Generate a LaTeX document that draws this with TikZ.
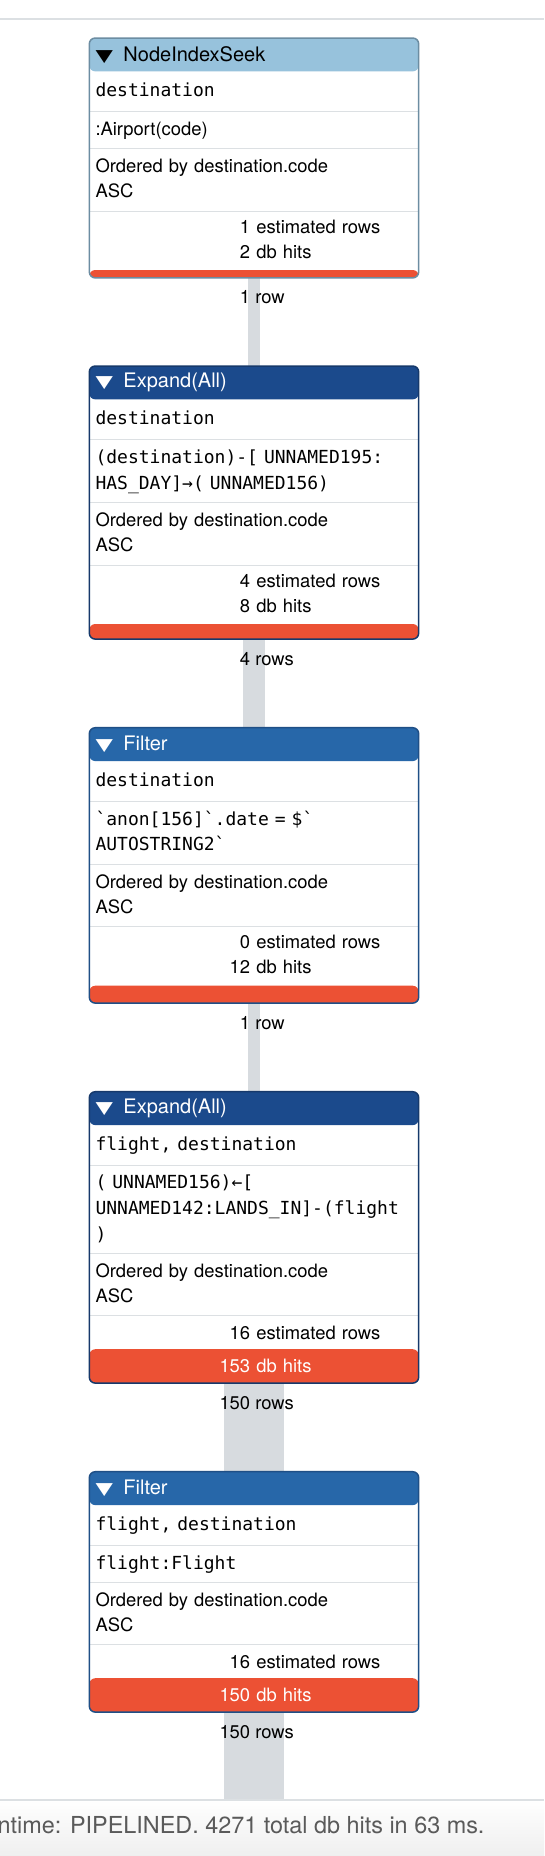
\documentclass[tikz,border=0pt]{standalone}
\usepackage{fontspec}
\setmainfont{TeX Gyre Heros}
\setmonofont{DejaVu Sans Mono}
\newfontfamily\symfont{DejaVu Sans}
\usetikzlibrary{positioning,fit,backgrounds,calc}

\definecolor{seekfill}{HTML}{97C2DC}
\definecolor{seekedge}{HTML}{6C8DA2}
\definecolor{expandfill}{HTML}{1B4A8C}
\definecolor{expandedge}{HTML}{16396B}
\definecolor{filterfill}{HTML}{2767A9}
\definecolor{filteredge}{HTML}{1F4F86}
\definecolor{hitred}{HTML}{EC5134}
\definecolor{rulegray}{HTML}{DCE0E3}
\definecolor{flowgray}{HTML}{D7DBDF}
\definecolor{footbg}{HTML}{EFEFEF}
\definecolor{foottext}{HTML}{5A5A5A}

\newcommand{\tri}{\scalebox{1}[0.75]{\symfont\fontsize{22.6}{22.6}\selectfont ▼}\hspace{10.6pt}}
\newcommand{\stat}[2]{\hspace*{154.7pt}\llap{#1} #2}

\begin{document}
\begin{tikzpicture}[
  x=1pt, y=1pt,
  hdr/.style={rectangle, text width=317pt, inner xsep=6pt, inner ysep=0pt,
    minimum height=33pt, align=left, font=\fontsize{20}{22}\selectfont},
  cell/.style={rectangle, text width=317pt, inner xsep=6pt, inner ysep=0pt,
    align=left, font=\fontsize{18.4}{25}\selectfont,
    execute at begin node=\strut, execute at end node=\strut},
  code/.style={cell, font=\ttfamily\fontsize{18}{25.7}\selectfont},
  hits/.style={rectangle, text width=317pt, inner xsep=6pt, inner ysep=0pt,
    align=left, minimum height=33pt, font=\fontsize{18.4}{25}\selectfont},
  bar/.style={rectangle, minimum width=329pt, inner sep=0pt},
  frame/.style={rectangle, rounded corners=6pt, line width=1.5pt, fill=white, inner sep=0pt},
  divider/.style={rulegray, line width=1.2pt},
  flow/.style={flowgray},
  count/.style={anchor=base west, inner sep=0pt, font=\fontsize{18.4}{24}\selectfont},
  node distance=0pt
]
\useasboundingbox (0,0) rectangle (544,-1856);

% top rule
\draw[rulegray, line width=2pt] (0,-19) -- (544,-19);

% NodeIndexSeek
\node[hdr, anchor=north] (h1) at (254,-38) {\tri NodeIndexSeek};
\node[code, below=of h1, minimum height=40pt] (a1) {destination};
\node[cell, below=of a1, minimum height=36.5pt] (b1) {:Airport(code)};
\node[cell, below=of b1, minimum height=62pt] (c1) {Ordered by destination.code\\ASC};
\node[cell, below=of c1, minimum height=58.5pt] (s1) {\stat{1}{estimated rows}\\\stat{2}{db hits}};
\node[bar, below=of s1, minimum height=7.5pt] (r1) {};

% Expand(All)
\node[hdr, anchor=north, text=white] (h2) at (254,-366) {\tri Expand(All)};
\node[code, below=of h2, minimum height=40pt] (a2) {destination};
\node[code, below=of a2, minimum height=62.5pt] (b2) {(destination)-[ UNNAMED195:\\HAS\_DAY]→( UNNAMED156)};
\node[cell, below=of b2, minimum height=62pt] (c2) {Ordered by destination.code\\ASC};
\node[cell, below=of c2, minimum height=58.5pt] (s2) {\stat{4}{estimated rows}\\\stat{8}{db hits}};
\node[bar, below=of s2, minimum height=14.7pt] (r2) {};

% Filter
\node[hdr, anchor=north, text=white] (h3) at (254,-727.7) {\tri Filter};
\node[code, below=of h3, minimum height=40pt] (a3) {destination};
\node[code, below=of a3, minimum height=62.5pt] (b3) {\textasciigrave anon[156]\textasciigrave.date = \$\textasciigrave\\AUTOSTRING2\textasciigrave};
\node[cell, below=of b3, minimum height=62pt] (c3) {Ordered by destination.code\\ASC};
\node[cell, below=of c3, minimum height=58.5pt] (s3) {\stat{0}{estimated rows}\\\stat{12}{db hits}};
\node[bar, below=of s3, minimum height=17pt] (r3) {};

% Expand(All)
\node[hdr, anchor=north, text=white] (h4) at (254,-1091.7) {\tri Expand(All)};
\node[code, below=of h4, minimum height=40pt] (a4) {flight, destination};
\node[code, below=of a4, minimum height=87.5pt] (b4) {( UNNAMED156)←[\\UNNAMED142:LANDS\_IN]-(flight\\)};
\node[cell, below=of b4, minimum height=62pt] (c4) {Ordered by destination.code\\ASC};
\node[hits, below=of c4] (s4) {\stat{16}{estimated rows}};
\node[hits, below=of s4, minimum height=33.5pt, text=white] (r4) {\stat{153}{db hits}};

% Filter
\node[hdr, anchor=north, text=white] (h5) at (254,-1471.7) {\tri Filter};
\node[code, below=of h5, minimum height=40pt] (a5) {flight, destination};
\node[code, below=of a5, minimum height=36.5pt] (b5) {flight:Flight};
\node[cell, below=of b5, minimum height=62pt] (c5) {Ordered by destination.code\\ASC};
\node[hits, below=of c5] (s5) {\stat{16}{estimated rows}};
\node[hits, below=of s5, minimum height=33.5pt, text=white] (r5) {\stat{150}{db hits}};

% Row counts
\node[count] (n1) at ($(r1.south)+(-4,-26)$) {\llap{1} row};
\node[count] (n2) at ($(r2.south)+(-4,-26)$) {\llap{4} rows};
\node[count] (n3) at ($(r3.south)+(-4,-26)$) {\llap{1} row};
\node[count] (n4) at ($(r4.south)+(-4,-26)$) {\llap{150} rows};
\node[count] (n5) at ($(r5.south)+(-4,-26)$) {\llap{150} rows};

% Footer
\node[rectangle, minimum width=544pt, minimum height=56pt, inner sep=0pt,
  top color=white, bottom color=footbg] (foot) at (272,-1828) {};
\draw[rulegray, line width=1.5pt] (foot.north west) -- (foot.north east);
\node[anchor=base east, inner sep=0pt, text=foottext, font=\fontsize{23.4}{28}\selectfont]
  (runtime) at (484.7,-1833.3) {ntime: PIPELINED. 4271 total db hits in 63 ms.};

\begin{scope}[on background layer]
\fill[white] (0,0) rectangle (544,-1856);
% flows between operators
\draw[flow, line width=11.7pt] (r1.south) -- (h2.north);
\draw[flow, line width=22pt] (r2.south) -- (h3.north);
\draw[flow, line width=11.7pt] (r3.south) -- (h4.north);
\draw[flow, line width=59.5pt] (r4.south) -- (h5.north);
\draw[flow, line width=59.5pt] (r5.south) -- (r5.south |- foot.north);
% operator frames
\node[frame, draw=seekedge, fit=(h1)(r1), path picture={
    \fill[seekfill] (h1.north west) rectangle (h1.south east);
    \fill[hitred] (r1.north west) rectangle (r1.south east);
    \draw[divider] (a1.south west) -- (a1.south east) (b1.south west) -- (b1.south east)
      (c1.south west) -- (c1.south east);}] (f1) {};
\node[frame, draw=expandedge, fit=(h2)(r2), path picture={
    \fill[expandfill] (h2.north west) rectangle (h2.south east);
    \fill[hitred] (r2.north west) rectangle (r2.south east);
    \draw[divider] (a2.south west) -- (a2.south east) (b2.south west) -- (b2.south east)
      (c2.south west) -- (c2.south east);}] (f2) {};
\node[frame, draw=filteredge, fit=(h3)(r3), path picture={
    \fill[filterfill] (h3.north west) rectangle (h3.south east);
    \fill[hitred] (r3.north west) rectangle (r3.south east);
    \draw[divider] (a3.south west) -- (a3.south east) (b3.south west) -- (b3.south east)
      (c3.south west) -- (c3.south east);}] (f3) {};
\node[frame, draw=expandedge, fit=(h4)(r4), path picture={
    \fill[expandfill] (h4.north west) rectangle (h4.south east);
    \fill[hitred] (r4.north west) rectangle (r4.south east);
    \draw[divider] (a4.south west) -- (a4.south east) (b4.south west) -- (b4.south east)
      (c4.south west) -- (c4.south east);}] (f4) {};
\node[frame, draw=filteredge, fit=(h5)(r5), path picture={
    \fill[filterfill] (h5.north west) rectangle (h5.south east);
    \fill[hitred] (r5.north west) rectangle (r5.south east);
    \draw[divider] (a5.south west) -- (a5.south east) (b5.south west) -- (b5.south east)
      (c5.south west) -- (c5.south east);}] (f5) {};
\end{scope}

\end{tikzpicture}
\end{document}
